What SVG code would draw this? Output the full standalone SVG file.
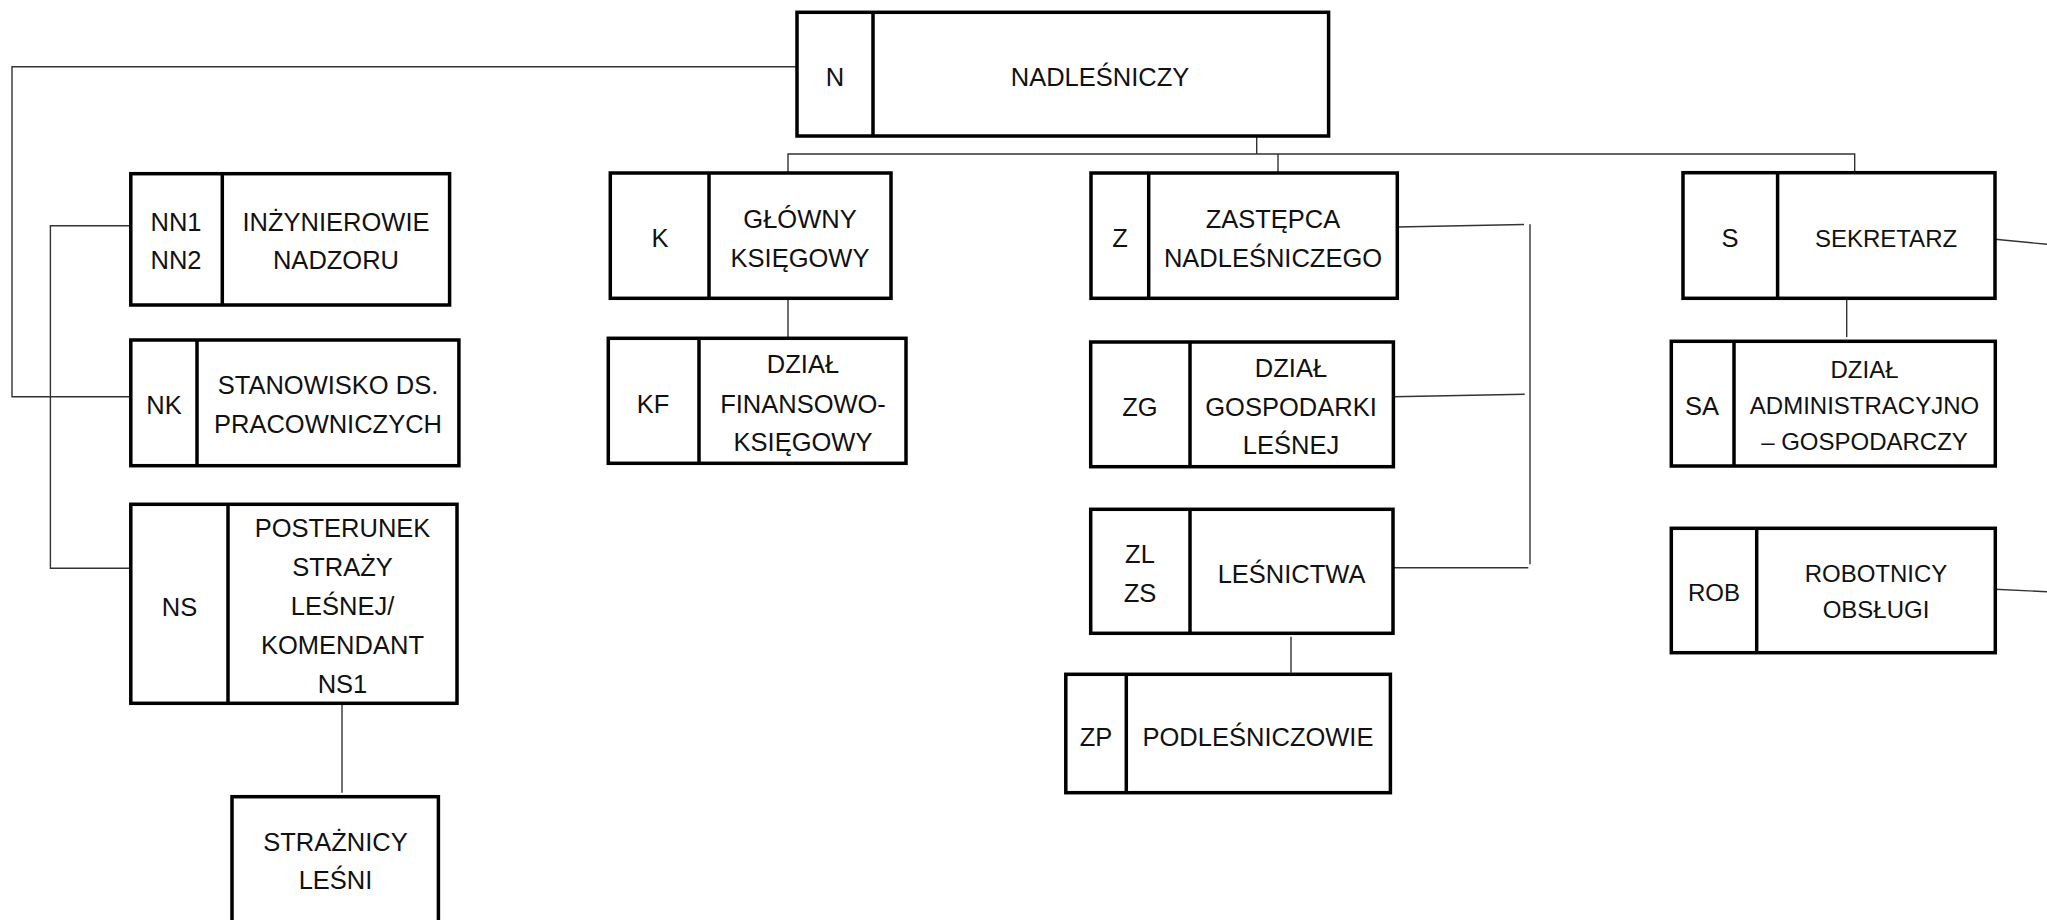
<svg xmlns="http://www.w3.org/2000/svg" width="2047" height="920" viewBox="0 0 2047 920">
<style>
.box{fill:#fff;stroke:#000;stroke-width:3.5}
.div{stroke:#000;stroke-width:3.5}
.c{fill:none;stroke:#333;stroke-width:1.4}
text{font-family:"Liberation Sans",Arial,sans-serif;font-size:25.5px;fill:#111;text-anchor:middle}
.s{font-size:24px}
</style>
<rect width="2047" height="920" fill="#fff"/>
<g id="connectors">
<path class="c" d="M797 66.7H12V396.7H131"/>
<path class="c" d="M131 225.7H50.4V568.3H131"/>
<path class="c" d="M1256.7 136V154"/>
<path class="c" d="M788 173V154H1854.7V172.7"/>
<path class="c" d="M1278 154V173"/>
<path class="c" d="M788 298V338"/>
<path class="c" d="M1397 227L1524 224.5"/>
<path class="c" d="M1530 224.3V564.3"/>
<path class="c" d="M1393 396.7L1524.7 394.3"/>
<path class="c" d="M1393 567.7H1528.3"/>
<path class="c" d="M1291 636.7V672.7"/>
<path class="c" d="M1846.7 298V337"/>
<path class="c" d="M1995 239.3L2047 244.3"/>
<path class="c" d="M1995 589.3L2047 591.7"/>
<path class="c" d="M342 703V792.7"/>
</g>
<g id="node-N">
<rect class="box" x="797" y="12.3" width="531.6" height="123.7"/>
<line class="div" x1="873" y1="12.3" x2="873" y2="136"/>
<text x="835" y="86">N</text>
<text x="1100" y="86">NADLEŚNICZY</text>
</g>
<g id="node-NN">
<rect class="box" x="130.8" y="173.7" width="318.8" height="131.3"/>
<line class="div" x1="222.3" y1="173.7" x2="222.3" y2="305"/>
<text x="176" y="231">NN1</text>
<text x="176" y="269">NN2</text>
<text x="336" y="231">INŻYNIEROWIE</text>
<text x="336" y="269">NADZORU</text>
</g>
<g id="node-NK">
<rect class="box" x="130.8" y="340" width="328.1" height="125.7"/>
<line class="div" x1="197" y1="340" x2="197" y2="465.7"/>
<text x="164" y="414">NK</text>
<text x="328" y="394">STANOWISKO DS.</text>
<text x="328" y="433">PRACOWNICZYCH</text>
</g>
<g id="node-NS">
<rect class="box" x="130.8" y="504.3" width="326.2" height="199"/>
<line class="div" x1="228" y1="504.3" x2="228" y2="703.3"/>
<text x="179.5" y="616">NS</text>
<text x="342.5" y="537">POSTERUNEK</text>
<text x="342.5" y="576">STRAŻY</text>
<text x="342.5" y="615">LEŚNEJ/</text>
<text x="342.5" y="654">KOMENDANT</text>
<text x="342.5" y="693">NS1</text>
</g>
<g id="node-STRAZNICY">
<rect class="box" x="232" y="796.7" width="206.4" height="200"/>
<text x="335.5" y="851">STRAŻNICY</text>
<text x="335.5" y="889">LEŚNI</text>
</g>
<g id="node-K">
<rect class="box" x="610.3" y="173" width="280.7" height="125.3"/>
<line class="div" x1="709" y1="173" x2="709" y2="298.3"/>
<text x="660" y="247">K</text>
<text x="800" y="228">GŁÓWNY</text>
<text x="800" y="267">KSIĘGOWY</text>
</g>
<g id="node-KF">
<rect class="box" x="608.3" y="338.3" width="297.7" height="125"/>
<line class="div" x1="699" y1="338.3" x2="699" y2="463.3"/>
<text x="653" y="413">KF</text>
<text x="803" y="373">DZIAŁ</text>
<text x="803" y="412.7">FINANSOWO-</text>
<text x="803" y="451">KSIĘGOWY</text>
</g>
<g id="node-Z">
<rect class="box" x="1091" y="173" width="306.3" height="125.3"/>
<line class="div" x1="1148.7" y1="173" x2="1148.7" y2="298.3"/>
<text x="1120" y="247">Z</text>
<text x="1273" y="228">ZASTĘPCA</text>
<text x="1273" y="267">NADLEŚNICZEGO</text>
</g>
<g id="node-ZG">
<rect class="box" x="1090.7" y="342" width="302.7" height="124.7"/>
<line class="div" x1="1190" y1="342" x2="1190" y2="466.7"/>
<text x="1140" y="416">ZG</text>
<text x="1291" y="377">DZIAŁ</text>
<text x="1291" y="416">GOSPODARKI</text>
<text x="1291" y="454">LEŚNEJ</text>
</g>
<g id="node-ZL">
<rect class="box" x="1090.7" y="509.3" width="302.3" height="124"/>
<line class="div" x1="1190" y1="509.3" x2="1190" y2="633.3"/>
<text x="1140" y="563">ZL</text>
<text x="1140" y="602">ZS</text>
<text x="1291.6" y="583">LEŚNICTWA</text>
</g>
<g id="node-ZP">
<rect class="box" x="1065.8" y="674.3" width="324.6" height="118.4"/>
<line class="div" x1="1126.3" y1="674.3" x2="1126.3" y2="792.7"/>
<text x="1096" y="746">ZP</text>
<text x="1258" y="746">PODLEŚNICZOWIE</text>
</g>
<g id="node-S">
<rect class="box" x="1683" y="172.7" width="312" height="125.6"/>
<line class="div" x1="1777.6" y1="172.7" x2="1777.6" y2="298.3"/>
<text x="1730" y="247">S</text>
<text class="s" x="1886" y="247">SEKRETARZ</text>
</g>
<g id="node-SA">
<rect class="box" x="1671.3" y="341.3" width="324" height="124.7"/>
<line class="div" x1="1734" y1="341.3" x2="1734" y2="466"/>
<text x="1702" y="415">SA</text>
<text class="s" x="1864.5" y="378">DZIAŁ</text>
<text class="s" x="1864.5" y="414">ADMINISTRACYJNO</text>
<text class="s" x="1864.5" y="450">– GOSPODARCZY</text>
</g>
<g id="node-ROB">
<rect class="box" x="1671.3" y="528.3" width="324" height="124.4"/>
<line class="div" x1="1756.7" y1="528.3" x2="1756.7" y2="652.7"/>
<text class="s" x="1714" y="601">ROB</text>
<text class="s" x="1876" y="582">ROBOTNICY</text>
<text class="s" x="1876" y="618">OBSŁUGI</text>
</g>
</svg>
